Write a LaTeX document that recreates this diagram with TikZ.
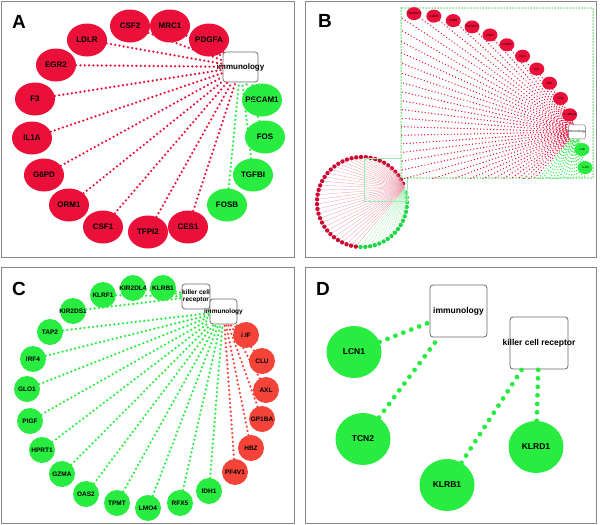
\documentclass[tikz,border=0pt]{standalone}
\usepackage{fontspec}
\setmainfont{Liberation Sans}
\usetikzlibrary{shapes.geometric}

\definecolor{genered}{RGB}{234,16,58}
\definecolor{genetomato}{RGB}{244,68,58}
\definecolor{genegreen}{RGB}{40,236,64}
\definecolor{framegray}{RGB}{135,135,135}
\definecolor{boxgray}{RGB}{105,105,105}
\definecolor{ovred}{RGB}{205,10,50}
\definecolor{ovgreen}{RGB}{30,215,70}

\newcommand\midlap[1]{\makebox[0pt]{#1}}

\begin{document}
\begin{tikzpicture}[x=1pt, y=-1pt,
%remember picture,
every node/.style={inner sep=0pt},
frame/.style={draw=framegray, line width=0.9pt},
tag/.style={font=\fontsize{19}{19}\bfseries\selectfont},
gene/.style={ellipse, minimum width=40pt, minimum height=33pt, font=\fontsize{8}{9}\bfseries\selectfont},
smallgene/.style={gene, minimum width=26pt, minimum height=26pt, font=\fontsize{6.5}{7}\bfseries\selectfont},
biggene/.style={gene, minimum width=55pt, minimum height=52pt, font=\fontsize{8.5}{9}\bfseries\selectfont},
bgene/.style={ellipse, minimum width=15pt, minimum height=13pt, font=\fontsize{3}{3.5}\selectfont},
term/.style={rectangle, draw=boxgray, fill=white, rounded corners=3pt, line width=0.7pt},
reddots/.style={draw=genered, line width=2.5pt, line cap=round, dash pattern=on 0pt off 4.3pt},
greendots/.style={reddots, draw=genegreen},
bigdots/.style={draw=genegreen, line width=4.8pt, line cap=round, dash pattern=on 0pt off 8.5pt}
]
\useasboundingbox (0,0) rectangle (600,525);

% A
\draw[frame] (1,1) rectangle (294,257);
\node[tag] (tagA) at (19,22) {A};
\foreach \n/\x/\y in {CSF2/130/26, MRC1/170/26, PDGFA/209/40, LDLR/87/40, EGR2/56/65,
                      F3/35/99, IL1A/32/138, G6PD/44/175, ORM1/69/205, CSF1/103/227,
                      TFPI2/148/232, CES1/188/227}
    \node[gene, fill=genered] (a\n) at (\x,\y) {\midlap{\n}};
\foreach \n/\x/\y in {FOSB/227/205, TGFBI/253/175, FOS/265/137, PECAM1/262/100}
    \node[gene, fill=genegreen] (a\n) at (\x,\y) {\midlap{\n}};
\node[term, minimum width=35pt, minimum height=30pt, font=\fontsize{8}{9}\bfseries\selectfont] (aimm) at (240.5,67) {\midlap{immunology}};

\foreach \n in {CSF2, MRC1, PDGFA, LDLR, EGR2, F3, IL1A, G6PD, ORM1, CSF1, TFPI2, CES1}
    \draw[reddots] (a\n) -- (aimm);
\foreach \n in {FOSB, TGFBI, FOS, PECAM1}
    \draw[greendots] (a\n) -- (aimm);

% B
\draw[frame] (305,1) rectangle (596,257);
\node[tag] (tagB) at (325,21) {B};
\coordinate (s0) at ({362+45*cos(18)},{202-45*sin(18)});
\foreach \k in {1,...,58}{
    \ifnum\k<41 \def\col{ovred}\else\def\col{ovgreen}\fi
    \node[circle, minimum size=4.4pt, fill=\col] (s\k) at ({362+45*cos(18+360/59*\k)},{202-45*sin(18+360/59*\k)}) {};
}
\foreach \k in {1,...,58}{
    \ifnum\k<41 \def\col{ovred}\else\def\col{ovgreen}\fi
    \draw[draw=\col!40, line width=0.3pt] (s\k) -- (s0);
}
\draw[draw=ovgreen!45, line width=0.6pt] (364,158) rectangle (407,201);

\draw[fill=white, draw=genegreen!85!black, line width=1.5pt, line cap=round, dash pattern=on 0pt off 3pt] (401,8) rectangle (593,178);
\node[term, minimum width=17pt, minimum height=14pt, rounded corners=2pt, line width=0.4pt, font=\fontsize{3.2}{4}\selectfont] (bhub) at ({398+188*cos(18)},{185-172*sin(18)}) {\midlap{immunology}};
\foreach \k/\n in {1/SCGB1A1, 2/IFNG, 3/TNF, 4/IL6, 5/IL1A, 6/IL1RAP, 7/CSF1, 8/TNFSF10,
                   9/IL2RB, 10/IL18R1, 11/TNFRSF9, 57/TLR4, 58/IL18}{
    \ifnum\k<41 \def\col{genered}\else\def\col{genegreen}\fi
    \node[bgene, fill=\col] (b\k) at ({398+188*cos(18+360/59*\k)},{185-172*sin(18+360/59*\k)}) {\midlap{\n}};
}
\foreach \k in {12,...,56}
    \coordinate (b\k) at ({398+188*cos(18+360/59*\k)},{185-172*sin(18+360/59*\k)});
\begin{scope}
\clip (401,8) rectangle (593,178);
\foreach \k in {1,...,58}{
    \ifnum\k<41 \def\col{genered}\else\def\col{genegreen}\fi
    \draw[draw=\col, line width=1.4pt, line cap=round, dash pattern=on 0pt off 3.3pt] (b\k) -- (bhub);
}
\end{scope}

% C
\draw[frame] (1,267) rectangle (294,523);
\node[tag] (tagC) at (19,289) {C};
\foreach \n/\x/\y in {KLRB1/163/288, KIR2DL4/133/288, KLRF1/103/295, KIR2DS1/73/311,
                      TAP2/50/332, IRF4/33/359, GLO1/27/389, PIGF/30/421, HPRT1/42/450,
                      GZMA/62/474, OAS2/86/494, TPMT/117/503, LMO4/148/508, RFX5/180/503,
                      IDH1/209/491}
    \node[smallgene, fill=genegreen] (c\n) at (\x,\y) {\midlap{\n}};
\foreach \n/\x/\y in {LIF/246/335, CLU/262/361, AXL/266/390, GP1BA/262/419, HBZ/251/448, PF4V1/235/472}
    \node[smallgene, fill=genetomato] (c\n) at (\x,\y) {\midlap{\n}};
\node[term, minimum width=28pt, minimum height=25pt, align=center, font=\fontsize{6.5}{7.5}\bfseries\selectfont] (ckcr) at (196,296.5) {killer cell\\receptor};
\node[term, minimum width=27pt, minimum height=25pt, font=\fontsize{6.5}{7.5}\bfseries\selectfont] (cimm) at (223.5,311.5) {\midlap{immunology}};

\foreach \n in {KLRB1, KIR2DL4, KLRF1, KIR2DS1}
    \draw[greendots] (c\n) -- (ckcr);
\foreach \n in {TAP2, IRF4, GLO1, PIGF, HPRT1, GZMA, OAS2, TPMT, LMO4, RFX5, IDH1}
    \draw[greendots] (c\n) -- (cimm);
\foreach \n in {LIF, CLU, AXL, GP1BA, HBZ, PF4V1}
    \draw[reddots, draw=genetomato] (c\n) -- (cimm);

% D
\draw[frame] (305,267) rectangle (596,523);
\node[tag] (tagD) at (323,289) {D};
\foreach \n/\x/\y in {LCN1/354/352, TCN2/363/439, KLRB1/447/485, KLRD1/536/447}
    \node[biggene, fill=genegreen] (d\n) at (\x,\y) {\midlap{\n}};
\node[term, minimum width=57pt, minimum height=52pt, line width=0.8pt, font=\fontsize{8.5}{9}\bfseries\selectfont] (dimm) at (458.5,311) {\midlap{immunology}};
\node[term, minimum width=58pt, minimum height=52pt, line width=0.8pt, font=\fontsize{8.5}{9}\bfseries\selectfont] (dkcr) at (539,343) {\midlap{killer cell receptor}};

\foreach \i/\j in {LCN1/imm, TCN2/imm, KLRB1/kcr, KLRD1/kcr}
    \draw[bigdots] (d\i) -- (d\j);

\end{tikzpicture}
\end{document}
